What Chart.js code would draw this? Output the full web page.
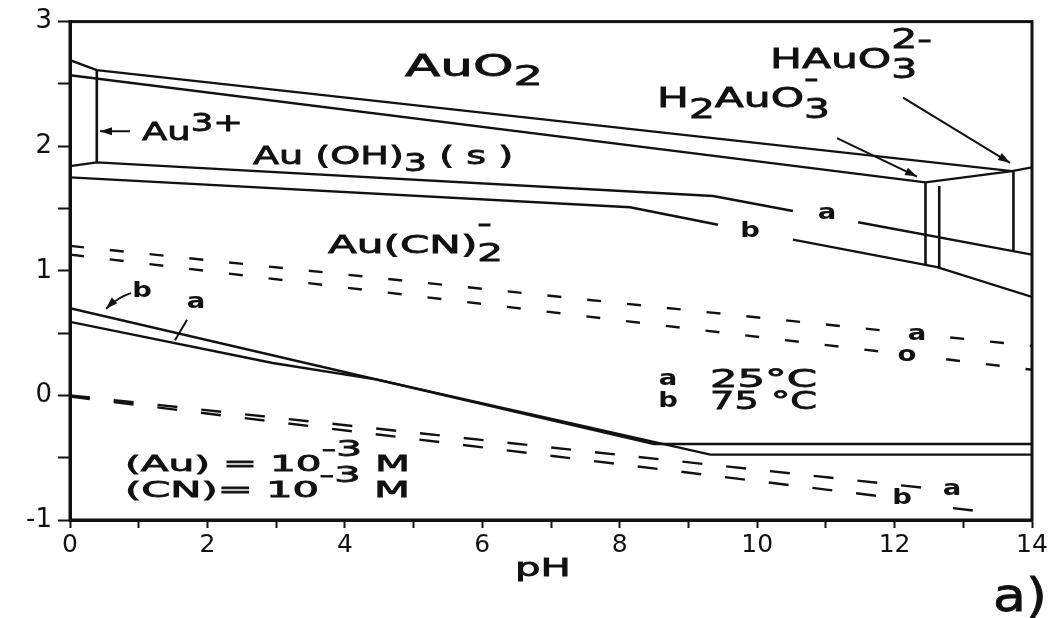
<!DOCTYPE html>
<html>
<head>
<meta charset="utf-8">
<script src="https://cdn.jsdelivr.net/npm/chart.js@4.4.1/dist/chart.umd.min.js"></script>
<style>
  body { margin: 0; background: #fff; }
  #wrap { width: 1059px; height: 618px; }
</style>
</head>
<body>
<div id="wrap"><canvas id="pourbaix"></canvas></div>
<script>
// boundaries (pH, E in V)
const phA = [0, 0.39, 13.71, 14];
const eA = [2.69, 2.61, 1.80, 1.83];
const phB = [0, 12.45, 13.71];
const eB = [2.57, 1.71, 1.80];
// Au(OH)3 / Au(CN)2- , a = 25 C (null = gap for the label)
const phC = [0, 0.39, 9.36, 10.52, 11.0, 11.47, 14];
const eC = [1.84, 1.87, 1.60, 1.48, null, 1.39, 1.13];
// same, b = 75 C
const phD = [0, 8.15, 9.43, 9.9, 10.52, 12.62, 14];
const eD = [1.75, 1.51, 1.37, null, 1.25, 1.03, 0.79];
// vertical boundaries
const phAu3 = [0.39, 0.39];
const eAu3 = [2.61, 1.87];
const phV1 = [12.45, 12.45];
const eV1 = [1.71, 1.05];
const phV2 = [12.65, 12.65];
const eV2 = [1.68, 1.03];
const phV3 = [13.73, 13.73];
const eV3 = [1.80, 1.16];
// Au(CN)2- / Au
const phLowB = [0, 8.5, 14];
const eLowB = [0.70, -0.39, -0.39];
const phLowA = [0, 2.95, 4.47, 9.32, 14];
const eLowA = [0.59, 0.26, 0.127, -0.475, -0.475];
// water lines (dashed)
const phO2a = [0, 11.85, 12.3, 12.81, 14];
const eO2a = [1.20, 0.52, null, 0.465, 0.397];
const phO2b = [0, 11.83, 12.3, 12.75, 14];
const eO2b = [1.13, 0.35, null, 0.29, 0.206];
const phH2a = [0, 12.4];
const eH2a = [0, -0.74];
const phH2b = [0, 11.8, 12.3, 12.85, 13.15];
const eH2b = [-0.01, -0.81, null, -0.905, -0.925];

const xTicks = [0, 2, 4, 6, 8, 10, 12, 14];
const yTicks = [-1, 0, 1, 2, 3];

const FONT = '"DejaVu Sans", sans-serif';
const INK = '#111';

// text placed on the diagram: left/right pH, baseline E
const texts = [
  { x0: 4.875, x1: 6.884, e: 2.564, size: 30, parts: [{ t: 'AuO' }, { t: '2', dy: 0.3, s: 0.9 }] },
  { x0: 1.048, x1: 2.517, e: 2.05, size: 25, parts: [{ t: 'Au' }, { t: '3+', dy: -0.35, s: 0.95 }] },
  { x0: 2.663, x1: 6.447, e: 1.859, size: 25, parts: [{ t: 'Au (OH)' }, { t: '3', dy: 0.3, s: 0.95 }, { t: ' ( s )' }] },
  { x0: 3.755, x1: 6.302, e: 1.139, size: 25, parts: [{ t: 'Au(CN)' }, { t: '2', dy: 0.3, s: 0.95, over: '-', overDy: -0.85 }] },
  { x0: 10.187, x1: 12.545, e: 2.628, size: 27, parts: [{ t: 'HAuO' }, { t: '3', dy: 0.37, s: 0.95, over: '2-', overDy: -0.74 }] },
  { x0: 8.543, x1: 11.06, e: 2.311, size: 27, parts: [{ t: 'H' }, { t: '2', dy: 0.4, s: 0.95 }, { t: 'AuO' }, { t: '3', dy: 0.4, s: 0.95, over: '-', overDy: -0.75 }] },
  { x0: 9.314, x1: 10.871, e: 0.065, size: 24, parts: [{ t: '25°C' }] },
  { x0: 9.314, x1: 10.871, e: -0.113, size: 24, parts: [{ t: '75 °C' }] },
  { x0: 0.80, x1: 4.948, e: -0.604, size: 22, parts: [{ t: '(Au) = 10' }, { t: '-3', dy: -0.68 }, { t: ' M' }] },
  { x0: 0.80, x1: 4.948, e: -0.818, size: 22, parts: [{ t: '(CN)= 10' }, { t: '-3', dy: -0.68 }, { t: ' M' }] },
  { x0: 6.476, x1: 7.29, e: -1.451, size: 24, parts: [{ t: 'pH' }] },
  { x0: 13.433, x1: 14.219, e: -1.729, size: 46, parts: [{ t: 'a)' }] }
];

// single letters, centred
const letters = [
  { t: 'a', x: 8.703, e: 0.133 }, { t: 'b', x: 8.703, e: -0.049 },
  { t: 'a', x: 11.017, e: 1.463 }, { t: 'b', x: 9.896, e: 1.32 },
  { t: 'b', x: 1.048, e: 0.838 }, { t: 'a', x: 1.834, e: 0.75 },
  { t: 'a', x: 12.327, e: 0.489 }, { t: 'o', x: 12.181, e: 0.323 },
  { t: 'b', x: 12.108, e: -0.822 }, { t: 'a', x: 12.836, e: -0.75 }
];

const arrows = [
  { x0: 0.873, e0: 2.12, x1: 0.437, e1: 2.12 },
  { x0: 12.123, e0: 2.39, x1: 13.68, e1: 1.867 },
  { x0: 11.162, e0: 2.065, x1: 12.327, e1: 1.756 }
];

function pts(xs, ys) {
  return xs.map((v, i) => ({ x: v, y: ys[i] }));
}

function line(xs, ys, dash, width) {
  return {
    data: pts(xs, ys),
    showLine: true,
    borderColor: INK,
    borderWidth: width || 2.4,
    borderDash: dash || [],
    borderCapStyle: 'butt',
    pointRadius: 0,
    fill: false,
    tension: 0
  };
}

function partFont(size, p) {
  return Math.round(size * (p.s || 1)) + 'px ' + FONT;
}

function richWidth(ctx, lab) {
  let w = 0;
  lab.parts.forEach(p => {
    ctx.font = partFont(lab.size, p);
    let pw = ctx.measureText(p.t).width;
    if (p.over) pw = Math.max(pw, ctx.measureText(p.over).width);
    w += pw;
  });
  return w;
}

function ink(ctx, t, x, y) {
  ctx.fillText(t, x, y);
  ctx.strokeText(t, x, y);
}

function arrowHead(ctx, x0, y0, x1, y1) {
  const a = Math.atan2(y1 - y0, x1 - x0);
  ctx.beginPath();
  ctx.moveTo(x1, y1);
  ctx.lineTo(x1 - 12 * Math.cos(a) + 4 * Math.sin(a), y1 - 12 * Math.sin(a) - 4 * Math.cos(a));
  ctx.lineTo(x1 - 12 * Math.cos(a) - 4 * Math.sin(a), y1 - 12 * Math.sin(a) + 4 * Math.cos(a));
  ctx.closePath();
  ctx.fill();
}

const notes = {
  id: 'notes',
  afterDraw(chart) {
    const { ctx, chartArea } = chart;
    const sx = chart.scales.x, sy = chart.scales.y;
    const px = v => sx.getPixelForValue(v);
    const py = v => sy.getPixelForValue(v);

    ctx.save();
    ctx.strokeStyle = INK;
    ctx.fillStyle = INK;
    ctx.lineWidth = 3;
    ctx.strokeRect(chartArea.left, chartArea.top, chartArea.width, chartArea.height);

    ctx.textBaseline = 'alphabetic';
    ctx.textAlign = 'left';
    ctx.lineWidth = 0.8;
    texts.forEach(lab => {
      const left = px(lab.x0);
      const stretch = (px(lab.x1) - left) / richWidth(ctx, lab);
      ctx.save();
      ctx.translate(left, py(lab.e));
      ctx.scale(stretch, 1);
      let cur = 0;
      lab.parts.forEach(p => {
        ctx.font = partFont(lab.size, p);
        ink(ctx, p.t, cur, (p.dy || 0) * lab.size);
        let pw = ctx.measureText(p.t).width;
        if (p.over) {
          ink(ctx, p.over, cur, p.overDy * lab.size);
          pw = Math.max(pw, ctx.measureText(p.over).width);
        }
        cur += pw;
      });
      ctx.restore();
    });

    ctx.textAlign = 'center';
    ctx.textBaseline = 'middle';
    letters.forEach(l => {
      ctx.save();
      ctx.translate(px(l.x), py(l.e));
      ctx.scale(1.25, 1);
      ctx.font = 'bold 22px ' + FONT;
      ctx.fillText(l.t, 0, 0);
      ctx.restore();
    });

    ctx.lineWidth = 2;
    arrows.forEach(a => {
      const x0 = px(a.x0), y0 = py(a.e0), x1 = px(a.x1), y1 = py(a.e1);
      ctx.beginPath();
      ctx.moveTo(x0, y0);
      ctx.lineTo(x1, y1);
      ctx.stroke();
      arrowHead(ctx, x0, y0, x1, y1);
    });

    // curved pointer from "b", tick from "a" (left side)
    ctx.beginPath();
    ctx.moveTo(px(0.888), py(0.821));
    ctx.quadraticCurveTo(px(0.699), py(0.79), px(0.524), py(0.695));
    ctx.stroke();
    arrowHead(ctx, px(0.699), py(0.79), px(0.524), py(0.695));
    ctx.beginPath();
    ctx.moveTo(px(1.703), py(0.608));
    ctx.lineTo(px(1.528), py(0.442));
    ctx.stroke();
    ctx.restore();
  }
};

new Chart(document.getElementById('pourbaix'), {
  type: 'scatter',
  data: {
    datasets: [
      line(phA, eA),
      line(phB, eB),
      line(phC, eC),
      line(phD, eD),
      line(phAu3, eAu3, null, 2.6),
      line(phV1, eV1, null, 2.6),
      line(phV2, eV2, null, 2.6),
      line(phV3, eV3, null, 2.6),
      line(phLowB, eLowB),
      line(phLowA, eLowA),
      line(phO2a, eO2a, [14, 26]),
      line(phO2b, eO2b, [14, 26]),
      line(phH2a, eH2a, [20, 24]),
      line(phH2b, eH2b, [20, 24])
    ]
  },
  options: {
    responsive: true,
    maintainAspectRatio: false,
    animation: false,
    layout: { padding: { top: 15, right: 27, left: 0, bottom: 0 } },
    plugins: {
      legend: { display: false },
      tooltip: { enabled: false }
    },
    scales: {
      x: {
        type: 'linear',
        min: 0,
        max: 14,
        afterFit: s => { s.height = 98; },
        ticks: {
          stepSize: 1,
          autoSkip: false,
          maxRotation: 0,
          padding: 2,
          color: INK,
          font: { family: FONT, size: 25 },
          callback: v => xTicks.includes(v) ? String(v) : ''
        },
        grid: { drawOnChartArea: false, tickLength: 8, tickColor: INK, tickWidth: 2 },
        border: { color: INK, width: 3 }
      },
      y: {
        type: 'linear',
        min: -1,
        max: 3,
        afterFit: s => { s.width = 70; },
        ticks: {
          stepSize: 0.5,
          autoSkip: false,
          padding: 6,
          color: INK,
          font: { family: FONT, size: 26 },
          callback: v => yTicks.includes(v) ? String(v) : ''
        },
        grid: { drawOnChartArea: false, tickLength: 12, tickColor: INK, tickWidth: 2 },
        border: { color: INK, width: 3 }
      }
    }
  },
  plugins: [notes]
});
</script>
</body>
</html>
